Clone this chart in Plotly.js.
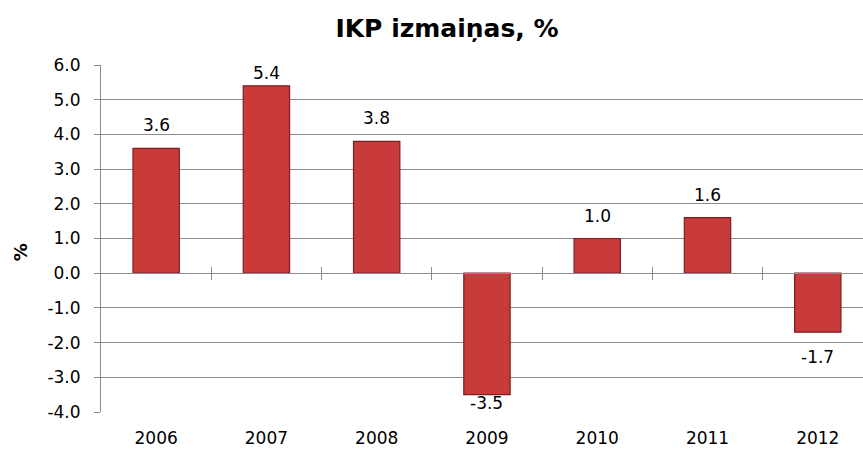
<!DOCTYPE html>
<html>
<head>
<meta charset="utf-8">
<script src="https://cdn.plot.ly/plotly-3.0.1.min.js"></script>
<style>html,body{margin:0;padding:0;background:#fff;}#chart{width:863px;height:450px;}</style>
</head>
<body>
<div id="chart"></div>
<script>
const categories = ['2006', '2007', '2008', '2009', '2010', '2011', '2012'];
const values = [3.6, 5.4, 3.8, -3.5, 1.0, 1.6, -1.7];
const yTickVals = [-4, -3, -2, -1, 0, 1, 2, 3, 4, 5, 6];
const yTickText = ['-4.0', '-3.0', '-2.0', '-1.0', '0.0', '1.0', '2.0', '3.0', '4.0', '5.0', '6.0'];
const valueLabels = ['3.6', '5.4', '3.8', '-3.5', '1.0', '1.6', '-1.7'];
const titleText = 'IKP izmaiņas, %';
const yTitleText = '%';

const W = 863, H = 450;
const M = {l: 101, r: 0, t: 65, b: 38};
const yMin = -4, yMax = 6;
const xRange = [-0.5, 6.41];
const pxPerUnit = (H - M.t - M.b) / (yMax - yMin);
const gridCol = '#8c8c8c';
const font = {family: 'DejaVu Sans', size: 17, color: '#000'};

const boundaries = categories.slice(1).map((c, i) => i + 0.5);

const traces = [
  {
    type: 'bar', x: categories, y: values,
    marker: {color: '#c93a3b', line: {color: '#7e1d1f', width: 1.2}},
    hoverinfo: 'x+y', showlegend: false
  },
  {type: 'scatter', x: [], y: [], xaxis: 'x2', yaxis: 'y', showlegend: false},
  {type: 'scatter', x: [], y: [], xaxis: 'x3', yaxis: 'y', showlegend: false}
];

const annotations = values.map((v, i) => {
  let shift;
  if (v >= 0) {
    const dist = (yMax - v) * pxPerUnit;
    shift = Math.min(23, dist - 8);
  } else {
    const dist = (v - yMin) * pxPerUnit;
    shift = -Math.min(25, dist - 9.5);
  }
  return {
    x: i, y: v, xref: 'x', yref: 'y',
    text: valueLabels[i], showarrow: false, yshift: shift,
    xanchor: 'center', yanchor: 'middle', font: font
  };
});
annotations.push({
  x: -0.106, y: 0.461, xref: 'paper', yref: 'paper',
  text: yTitleText, textangle: -90, showarrow: false,
  xanchor: 'center', yanchor: 'middle',
  font: {family: 'DejaVu Sans', size: 18, color: '#000', weight: 'bold'}
});

const zeroPos = (0 - yMin) / (yMax - yMin);

const layout = {
  width: W, height: H,
  margin: {l: M.l, r: M.r, t: M.t, b: M.b, pad: 0},
  paper_bgcolor: '#fff', plot_bgcolor: '#fff',
  showlegend: false,
  bargap: 0.58,
  title: {
    text: titleText, x: 447 / W, xanchor: 'center', y: 1 - 28 / H, yanchor: 'middle',
    font: {family: 'DejaVu Sans', size: 25, color: '#000', weight: 'bold'}
  },
  xaxis: {
    type: 'category', range: xRange, showgrid: false, showline: false, zeroline: false,
    ticks: 'outside', ticklen: 11, tickcolor: 'rgba(0,0,0,0)', tickfont: font
  },
  xaxis2: {
    type: 'linear', overlaying: 'x', anchor: 'free', position: zeroPos, range: xRange,
    tickvals: boundaries, showticklabels: false, ticks: 'outside', ticklen: 6,
    tickcolor: gridCol, tickwidth: 1, showline: true, linecolor: gridCol, linewidth: 1,
    showgrid: false, zeroline: false
  },
  xaxis3: {
    type: 'linear', overlaying: 'x', anchor: 'free', position: zeroPos, range: xRange,
    tickvals: boundaries, showticklabels: false, ticks: 'inside', ticklen: 6,
    tickcolor: gridCol, tickwidth: 1, showline: false, showgrid: false, zeroline: false
  },
  yaxis: {
    range: [yMin, yMax], tickvals: yTickVals, ticktext: yTickText,
    showgrid: true, gridcolor: gridCol, gridwidth: 1,
    showline: true, linecolor: gridCol, linewidth: 1,
    ticks: 'outside', ticklen: 6, tickcolor: gridCol, tickwidth: 1,
    zeroline: false, tickfont: font, ticklabelstandoff: 10
  },
  annotations: annotations
};

Plotly.newPlot('chart', traces, layout, {staticPlot: true, displayModeBar: false});
</script>
</body>
</html>
